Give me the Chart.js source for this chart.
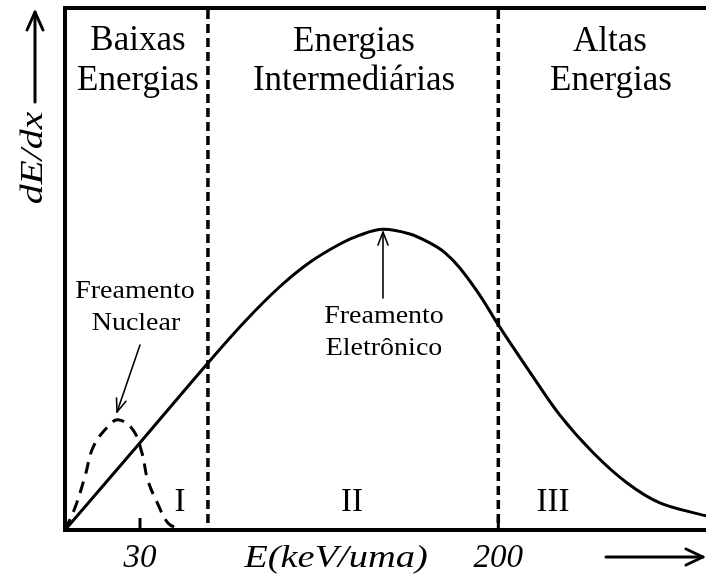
<!DOCTYPE html>
<html>
<head>
<meta charset="utf-8">
<script src="https://cdn.jsdelivr.net/npm/chart.js@4/dist/chart.umd.min.js"></script>
<style>
  html, body { margin: 0; padding: 0; background: #fff; }
  #wrap { width: 706px; height: 576px; }
</style>
</head>
<body>
<div id="wrap"><canvas id="chart" width="706" height="576"></canvas></div>
<script>
// --- dados (escala arbitrária 0-100 nos dois eixos) ---
const electronicX = [0, 11.2, 22.3, 28.1, 33.5, 38.2, 42.9, 46.0, 49.6, 53.8, 56.9, 59.3, 61.6, 64.7, 67.6, 72.5, 77.2, 82.4, 87.7, 92.8, 100];
const electronicY = [0, 16.0, 32.0, 40.0, 46.6, 51.3, 54.8, 56.5, 57.6, 56.7, 55.0, 53.1, 50.2, 45.0, 39.3, 30.3, 22.0, 14.8, 9.0, 5.2, 2.7];
const nuclearX = [0, 1.6, 3.1, 4.4, 6.6, 8.3, 10.6, 12.0, 12.9, 14.4, 16.1, 17.9];
const nuclearY = [0, 4.4, 10.2, 15.9, 19.7, 21.1, 19.2, 14.8, 9.6, 5.2, 1.3, 0.2];
const xTickValues = [11.7, 67.6];
const xTickLabels = ['30', '200'];
const regionBounds = [22.3, 67.6];
const regionNumerals = ['I', 'II', 'III'];

const SERIF = '"Liberation Serif", "DejaVu Serif", serif';

const toPoints = (xs, ys) => xs.map((x, i) => ({ x, y: ys[i] }));

const drawText = (ctx, s, x, y, font, sx = 1) => {
    ctx.save();
    ctx.translate(x, y);
    ctx.scale(sx, 1);
    ctx.font = font;
    ctx.fillStyle = '#000';
    ctx.textAlign = 'center';
    ctx.textBaseline = 'alphabetic';
    ctx.fillText(s, 0, 0);
    ctx.restore();
};

const drawArrow = (ctx, x1, y1, x2, y2, width, headLen, headHalf) => {
    const ang = Math.atan2(y2 - y1, x2 - x1);
    ctx.save();
    ctx.strokeStyle = '#000';
    ctx.lineWidth = width;
    ctx.lineCap = 'round';
    ctx.lineJoin = 'round';
    ctx.beginPath();
    ctx.moveTo(x1, y1);
    ctx.lineTo(x2, y2);
    ctx.stroke();
    const bx = x2 - headLen * Math.cos(ang), by = y2 - headLen * Math.sin(ang);
    const px = -Math.sin(ang) * headHalf, py = Math.cos(ang) * headHalf;
    ctx.beginPath();
    ctx.moveTo(bx + px, by + py);
    ctx.lineTo(x2, y2);
    ctx.lineTo(bx - px, by - py);
    ctx.stroke();
    ctx.restore();
};

// --- anotações, linhas tracejadas e setas ---
const decorations = {
    id: 'decorations',
    afterDatasetsDraw(chart) {
        const { ctx, chartArea: area, scales: { x } } = chart;

        // linha superior da moldura
        ctx.save();
        ctx.strokeStyle = '#000';
        ctx.lineWidth = 4;
        ctx.beginPath();
        ctx.moveTo(area.left - 2, area.top);
        ctx.lineTo(706, area.top);
        ctx.stroke();

        // divisões das regiões
        ctx.lineWidth = 3.5;
        ctx.setLineDash([9, 5]);
        regionBounds.forEach(v => {
            const px = x.getPixelForValue(v);
            ctx.beginPath();
            ctx.moveTo(px, area.top + 2);
            ctx.lineTo(px, area.bottom);
            ctx.stroke();
        });
        ctx.setLineDash([]);

        // marcas internas dos ticks
        ctx.lineWidth = 3;
        xTickValues.forEach(v => {
            const px = x.getPixelForValue(v);
            ctx.beginPath();
            ctx.moveTo(px, area.bottom);
            ctx.lineTo(px, area.bottom - 12);
            ctx.stroke();
        });
        ctx.restore();

        const title = '35px ' + SERIF;
        drawText(ctx, 'Baixas', 138, 50, title);
        drawText(ctx, 'Energias', 138, 90, title);
        drawText(ctx, 'Energias', 354, 51, title);
        drawText(ctx, 'Intermediárias', 354, 90, title);
        drawText(ctx, 'Altas', 610, 51, title);
        drawText(ctx, 'Energias', 611, 90, title);

        const roman = '33px ' + SERIF;
        const romanX = [180, 352, 553];
        regionNumerals.forEach((r, i) => drawText(ctx, r, romanX[i], 511, roman));

        const small = '25px ' + SERIF;
        drawText(ctx, 'Freamento', 135, 298, small, 1.12);
        drawText(ctx, 'Nuclear', 136, 330, small, 1.12);
        drawText(ctx, 'Freamento', 384, 323, small, 1.12);
        drawText(ctx, 'Eletrônico', 384, 355, small, 1.12);

        drawArrow(ctx, 140, 345, 117, 412, 1.6, 13, 5);
        drawArrow(ctx, 383, 298, 383, 232, 1.6, 13, 5);

        // títulos dos eixos
        drawText(ctx, 'E(keV/uma)', 336, 567, 'italic 32px ' + SERIF, 1.2);
        ctx.save();
        ctx.translate(42, 158);
        ctx.rotate(-Math.PI / 2);
        drawText(ctx, 'dE/dx', 0, 0, 'italic 31px ' + SERIF, 1.28);
        ctx.restore();

        drawArrow(ctx, 35, 102, 35, 12, 3, 18, 8);
        drawArrow(ctx, 606, 557, 703, 557, 3, 17, 8);
    }
};

new Chart(document.getElementById('chart'), {
    type: 'line',
    data: {
        datasets: [
            {
                label: 'Freamento Eletrônico',
                data: toPoints(electronicX, electronicY),
                borderColor: '#000',
                borderWidth: 3,
                pointRadius: 0,
                tension: 0.35,
                fill: false,
            },
            {
                label: 'Freamento Nuclear',
                data: toPoints(nuclearX, nuclearY),
                borderColor: '#000',
                borderWidth: 3,
                borderDash: [12, 8],
                pointRadius: 0,
                tension: 0.4,
                fill: false,
            },
        ],
    },
    options: {
        responsive: false,
        animation: false,
        layout: { padding: { top: 8, right: 0, left: 0, bottom: 0 } },
        plugins: { legend: { display: false }, tooltip: { enabled: false } },
        scales: {
            x: {
                type: 'linear',
                min: 0,
                max: 100,
                afterFit: s => { s.height = 46; },
                afterBuildTicks: s => { s.ticks = xTickValues.map(v => ({ value: v })); },
                grid: { display: false },
                border: { display: true, width: 4, color: '#000' },
                ticks: {
                    autoSkip: false,
                    maxRotation: 0,
                    padding: 1,
                    color: '#000',
                    font: { family: SERIF, size: 33, style: 'italic' },
                    callback: (v, i) => xTickLabels[i],
                },
            },
            y: {
                min: 0,
                max: 100,
                afterFit: s => { s.width = 65; },
                grid: { display: false },
                border: { display: true, width: 4, color: '#000' },
                ticks: { display: false },
            },
        },
    },
    plugins: [decorations],
});
</script>
</body>
</html>
